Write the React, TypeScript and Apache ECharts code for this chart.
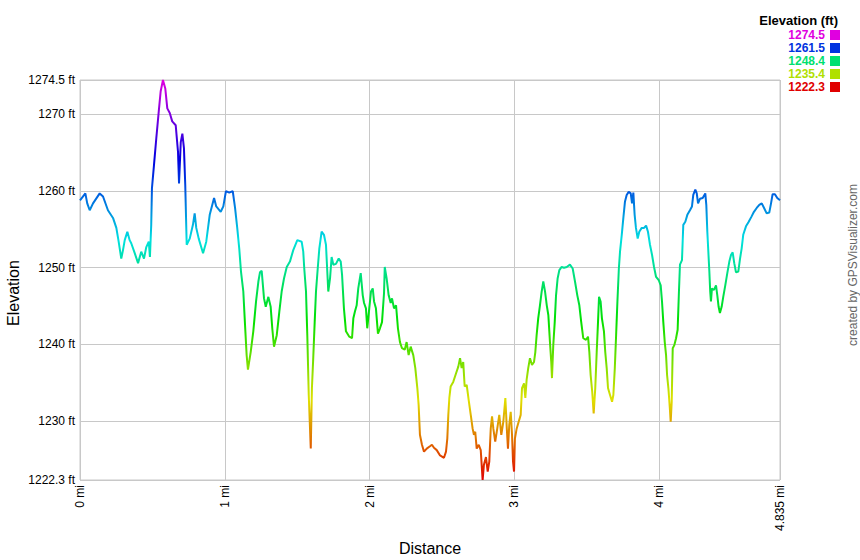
import React, { useEffect, useRef } from "react";
import * as echarts from "echarts";

const distances = [
  0, 0.037, 0.05, 0.067, 0.09, 0.136, 0.159, 0.193, 0.228, 0.251, 0.267, 0.285, 0.297, 0.309, 0.327, 0.343,
  0.354, 0.378, 0.401, 0.423, 0.442, 0.458, 0.475, 0.483, 0.492, 0.497, 0.511, 0.527, 0.544, 0.557, 0.573,
  0.589, 0.603, 0.62, 0.637, 0.661, 0.677, 0.684, 0.696, 0.707, 0.718, 0.727, 0.737, 0.758, 0.78, 0.792,
  0.803, 0.82, 0.85, 0.872, 0.896, 0.926, 0.941, 0.972, 0.99, 1.008, 1.031, 1.055, 1.071, 1.086, 1.1, 1.112,
  1.128, 1.14, 1.151, 1.16, 1.179, 1.197, 1.216, 1.232, 1.243, 1.255, 1.271, 1.283, 1.301, 1.317, 1.328,
  1.34, 1.359, 1.377, 1.393, 1.409, 1.428, 1.45, 1.473, 1.501, 1.531, 1.542, 1.549, 1.561, 1.57, 1.58,
  1.594, 1.602, 1.611, 1.621, 1.63, 1.642, 1.653, 1.669, 1.685, 1.699, 1.708, 1.715, 1.727, 1.738, 1.75,
  1.768, 1.787, 1.801, 1.81, 1.823, 1.837, 1.86, 1.879, 1.888, 1.899, 1.911, 1.922, 1.939, 1.953, 1.962,
  1.975, 1.984, 1.998, 2.01, 2.022, 2.031, 2.044, 2.058, 2.072, 2.086, 2.1, 2.105, 2.118, 2.132, 2.146,
  2.155, 2.169, 2.183, 2.196, 2.21, 2.224, 2.243, 2.256, 2.27, 2.284, 2.302, 2.316, 2.33, 2.339, 2.348,
  2.362, 2.376, 2.395, 2.417, 2.431, 2.445, 2.464, 2.487, 2.514, 2.528, 2.537, 2.544, 2.551, 2.56, 2.578,
  2.597, 2.613, 2.625, 2.636, 2.647, 2.657, 2.671, 2.685, 2.699, 2.712, 2.721, 2.73, 2.74, 2.754, 2.768,
  2.781, 2.79, 2.804, 2.816, 2.827, 2.837, 2.846, 2.855, 2.868, 2.882, 2.896, 2.91, 2.924, 2.938, 2.948,
  2.956, 2.965, 2.975, 2.984, 2.991, 2.998, 3.004, 3.016, 3.03, 3.044, 3.053, 3.067, 3.076, 3.085, 3.096,
  3.108, 3.122, 3.136, 3.145, 3.154, 3.165, 3.177, 3.189, 3.2, 3.212, 3.224, 3.235, 3.246, 3.255, 3.26,
  3.269, 3.279, 3.288, 3.299, 3.311, 3.327, 3.343, 3.362, 3.384, 3.403, 3.419, 3.435, 3.449, 3.462, 3.476,
  3.495, 3.509, 3.518, 3.527, 3.538, 3.548, 3.559, 3.569, 3.578, 3.585, 3.596, 3.605, 3.619, 3.628, 3.638,
  3.647, 3.661, 3.675, 3.684, 3.694, 3.703, 3.712, 3.722, 3.73, 3.742, 3.753, 3.764, 3.776, 3.79, 3.804,
  3.813, 3.822, 3.831, 3.84, 3.852, 3.863, 3.88, 3.896, 3.91, 3.923, 3.937, 3.951, 3.965, 3.979, 3.997,
  4.011, 4.02, 4.029, 4.039, 4.048, 4.055, 4.064, 4.074, 4.08, 4.087, 4.094, 4.105, 4.117, 4.128, 4.137,
  4.144, 4.158, 4.167, 4.181, 4.195, 4.213, 4.227, 4.236, 4.25, 4.26, 4.269, 4.282, 4.301, 4.319, 4.326,
  4.333, 4.34, 4.347, 4.353, 4.358, 4.365, 4.379, 4.393, 4.402, 4.411, 4.42, 4.432, 4.443, 4.457, 4.471,
  4.485, 4.497, 4.508, 4.519, 4.531, 4.547, 4.559, 4.57, 4.581, 4.6, 4.619, 4.639, 4.655, 4.674, 4.692,
  4.709, 4.725, 4.743, 4.761, 4.773, 4.784, 4.8, 4.816, 4.835,
];

const elevations = [
  1258.8, 1259.7, 1258.4, 1257.5, 1258.4, 1259.7, 1259.3, 1257.5, 1256.5, 1255.2, 1253.4, 1251.2, 1252.3,
  1253.6, 1254.7, 1253.6, 1253.2, 1251.9, 1250.6, 1252.1, 1251.2, 1252.7, 1253.4, 1251.4, 1255.6, 1260.4,
  1263.4, 1266.9, 1270.4, 1273.0, 1274.5, 1273.4, 1270.8, 1270.2, 1269.1, 1268.6, 1265.1, 1261.0, 1266.4,
  1267.5, 1265.6, 1260.8, 1253.0, 1253.8, 1255.6, 1257.1, 1255.2, 1253.8, 1251.9, 1253.4, 1256.9, 1259.1,
  1258.0, 1257.3, 1258.0, 1260.0, 1259.8, 1260.0, 1257.8, 1255.2, 1252.5, 1249.5, 1246.9, 1242.5, 1238.6,
  1236.7, 1239.0, 1241.7, 1245.6, 1248.2, 1249.4, 1249.6, 1246.0, 1244.9, 1246.2, 1244.9, 1242.1, 1239.7,
  1241.2, 1244.3, 1246.9, 1248.6, 1250.1, 1250.8, 1252.3, 1253.6, 1253.4, 1252.1, 1249.9, 1246.9, 1241.2,
  1233.4, 1226.4, 1234.3, 1238.2, 1242.9, 1246.9, 1249.9, 1252.5, 1254.7, 1254.3, 1253.0, 1249.5, 1246.9,
  1248.6, 1251.4, 1250.4, 1250.5, 1251.2, 1250.8, 1249.1, 1244.7, 1241.7, 1241.0, 1240.8, 1243.4, 1244.3,
  1245.1, 1247.3, 1249.3, 1246.4, 1245.4, 1244.7, 1242.1, 1244.7, 1246.9, 1247.3, 1245.6, 1244.7, 1241.4,
  1242.1, 1242.9, 1246.7, 1250.1, 1248.6, 1246.4, 1245.4, 1246.0, 1244.7, 1245.1, 1242.1, 1240.3, 1239.5,
  1239.3, 1240.3, 1238.6, 1239.7, 1238.6, 1236.9, 1234.3, 1232.1, 1228.2, 1226.9, 1226.0, 1226.4, 1226.7,
  1226.9, 1226.5, 1226.2, 1225.5, 1225.2, 1226.0, 1227.7, 1230.8, 1233.0, 1234.5, 1235.1, 1236.2, 1237.1,
  1238.2, 1236.9, 1237.7, 1234.5, 1234.7, 1232.7, 1230.8, 1229.0, 1228.2, 1228.6, 1226.4, 1226.9, 1226.2,
  1222.3, 1224.3, 1225.3, 1223.4, 1224.7, 1229.0, 1230.6, 1229.0, 1227.3, 1229.0, 1230.8, 1228.2, 1229.9,
  1233.0, 1229.0, 1226.4, 1229.5, 1231.2, 1228.2, 1224.7, 1223.4, 1227.7, 1229.0, 1229.9, 1230.8, 1234.3,
  1234.9, 1233.0, 1235.4, 1236.9, 1238.2, 1237.3, 1237.7, 1239.0, 1241.2, 1243.4, 1245.1, 1246.9, 1248.2,
  1246.9, 1245.1, 1243.8, 1240.3, 1237.7, 1235.6, 1239.9, 1242.9, 1246.4, 1248.6, 1249.7, 1250.1, 1250.0,
  1250.1, 1250.4, 1249.9, 1248.2, 1246.4, 1245.1, 1242.9, 1240.8, 1240.6, 1241.0, 1239.0, 1236.0, 1233.8,
  1231.0, 1234.3, 1239.0, 1242.9, 1246.2, 1245.6, 1243.4, 1241.7, 1239.0, 1236.9, 1234.3, 1233.4, 1232.5,
  1233.4, 1236.9, 1241.2, 1245.6, 1249.9, 1252.1, 1254.3, 1256.5, 1258.6, 1259.5, 1259.9, 1259.7, 1258.4,
  1259.8, 1256.9, 1255.2, 1253.8, 1254.7, 1255.2, 1255.2, 1255.5, 1254.7, 1253.0, 1251.7, 1250.1, 1248.8,
  1248.4, 1247.7, 1245.6, 1242.9, 1240.3, 1238.6, 1236.0, 1234.3, 1231.7, 1229.9, 1232.5, 1239.5, 1239.9,
  1240.8, 1241.9, 1246.9, 1250.4, 1251.0, 1255.6, 1256.0, 1256.9, 1257.5, 1258.0, 1259.5, 1260.2, 1259.7,
  1258.4, 1259.0, 1259.1, 1259.7, 1258.2, 1254.7, 1252.1, 1249.5, 1246.9, 1245.6, 1247.3, 1247.1, 1247.7,
  1246.4, 1244.9, 1244.1, 1244.9, 1246.2, 1247.7, 1249.3, 1250.8, 1251.7, 1252.0, 1250.6, 1249.4, 1249.5,
  1251.2, 1252.5, 1254.3, 1255.4, 1256.0, 1256.7, 1257.3, 1257.8, 1258.2, 1258.4, 1257.8, 1257.1, 1257.2,
  1258.4, 1259.6, 1259.6, 1259.1, 1258.8,
];

const yTicks = [1222.3, 1230, 1240, 1250, 1260, 1270, 1274.5];
const xTicks = [0, 1, 2, 3, 4, 4.835];
const legendValues = ["1274.5", "1261.5", "1248.4", "1235.4", "1222.3"];
const legendColors = ["#e000e0", "#0033e0", "#00e070", "#b0e000", "#e00000"];
const lineColors = [
  "#e00000", "#e07000", "#e0e000", "#70e000", "#00e000", "#00e070",
  "#00e0e0", "#0070e0", "#0000e0", "#7000e0", "#e000e0",
];

const FONT = "'Liberation Sans', Arial, sans-serif";

export default function App() {
  const ref = useRef<HTMLDivElement>(null);
  useEffect(() => {
    if (!ref.current) return;
    const chart = echarts.init(ref.current, null, { renderer: "svg" });
    const data = distances.map((d, i) => [d, elevations[i]]);
    const legendGraphics: any[] = [
      {
        type: "text",
        right: 22,
        top: 14,
        style: { text: "Elevation (ft)", font: `bold 13px ${FONT}`, fill: "#000" },
      },
    ];
    legendValues.forEach((v, i) => {
      const cy = 35 + i * 13;
      legendGraphics.push({
        type: "text",
        x: 825,
        y: cy,
        style: {
          text: v,
          font: `bold 12px ${FONT}`,
          fill: legendColors[i],
          align: "right",
          verticalAlign: "middle",
        },
      });
      legendGraphics.push({
        type: "rect",
        shape: { x: 830, y: cy - 5, width: 10, height: 10 },
        style: { fill: legendColors[i] },
      });
    });
    chart.setOption({
      animation: false,
      grid: {
        left: 80,
        right: 80,
        top: 80,
        bottom: 80,
        show: true,
        borderColor: "#c8c8c8",
        borderWidth: 1,
        containLabel: false,
      },
      xAxis: {
        type: "value",
        min: 0,
        max: 4.835,
        axisLine: { show: false },
        axisTick: { show: false, customValues: xTicks },
        splitLine: { show: true, lineStyle: { color: "#c8c8c8", width: 1 } },
        axisLabel: {
          customValues: xTicks,
          rotate: 90,
          margin: 5,
          color: "#000",
          fontSize: 12,
          fontFamily: FONT,
          formatter: (v: number) => `${v} mi`,
        },
      },
      yAxis: {
        type: "value",
        min: 1222.3,
        max: 1274.5,
        axisLine: { show: false },
        axisTick: { show: false, customValues: yTicks },
        splitLine: { show: true, lineStyle: { color: "#c8c8c8", width: 1 } },
        axisLabel: {
          customValues: yTicks,
          margin: 5,
          color: "#000",
          fontSize: 12,
          fontFamily: FONT,
          formatter: (v: number) => `${v} ft`,
        },
      },
      visualMap: {
        type: "continuous",
        show: false,
        dimension: 1,
        seriesIndex: 0,
        min: 1222.3,
        max: 1274.5,
        inRange: { color: lineColors },
      },
      series: [
        {
          type: "line",
          data,
          showSymbol: false,
          silent: true,
          lineStyle: { width: 2 },
        },
      ],
      graphic: [
        {
          type: "text",
          x: 13,
          y: 293,
          rotation: Math.PI / 2,
          style: {
            text: "Elevation",
            font: `16px ${FONT}`,
            fill: "#000",
            align: "center",
            verticalAlign: "middle",
          },
        },
        {
          type: "text",
          x: 430,
          y: 548,
          style: {
            text: "Distance",
            font: `16px ${FONT}`,
            fill: "#000",
            align: "center",
            verticalAlign: "middle",
          },
        },
        {
          type: "text",
          x: 853,
          y: 265,
          rotation: Math.PI / 2,
          style: {
            text: "created by GPSVisualizer.com",
            font: `12px ${FONT}`,
            fill: "#666",
            align: "center",
            verticalAlign: "middle",
          },
        },
        ...legendGraphics,
      ],
    });
    return () => chart.dispose();
  }, []);
  return (
    <div
      ref={ref}
      style={{ position: "absolute", left: 0, top: 0, width: 860, height: 560 }}
    />
  );
}
